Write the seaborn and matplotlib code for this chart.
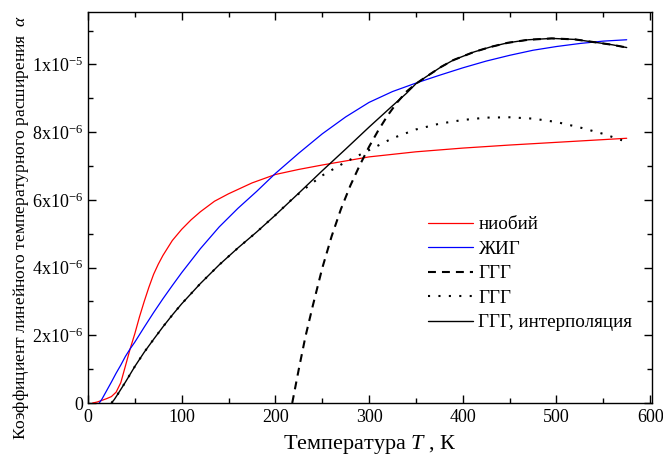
import matplotlib
matplotlib.use("Agg")
import matplotlib.pyplot as plt
from matplotlib.ticker import MultipleLocator, FixedLocator, FixedFormatter
import pandas as pd
import seaborn as sns

# ---- data ----
T_nb = [5, 10, 15, 20, 25, 30, 35, 40, 45, 50, 55, 60, 65, 70, 75, 80, 90, 100, 110, 120, 135,
        150, 175, 200, 225, 250, 275, 300, 350, 400, 450, 500, 550, 575]
a_nb = [0.0, 0.03, 0.08, 0.13, 0.19, 0.32, 0.6, 1.1, 1.6, 2.05, 2.55, 3.0, 3.42, 3.8, 4.1,
        4.36, 4.8, 5.13, 5.41, 5.65, 5.96, 6.18, 6.5, 6.75, 6.9, 7.03, 7.15, 7.27, 7.42, 7.53,
        7.62, 7.7, 7.78, 7.82]

T_yig = [12, 15, 20, 25, 30, 35, 40, 45, 50, 60, 70, 80, 90, 100, 120, 140, 160, 180, 200,
         225, 250, 275, 300, 325, 350, 375, 400, 425, 450, 475, 500, 525, 550, 575]
a_yig = [0.0, 0.12, 0.37, 0.62, 0.88, 1.12, 1.38, 1.6, 1.8, 2.24, 2.67, 3.08, 3.47, 3.85,
         4.56, 5.2, 5.75, 6.25, 6.78, 7.38, 7.95, 8.45, 8.88, 9.2, 9.45, 9.68, 9.9, 10.1,
         10.27, 10.42, 10.53, 10.62, 10.69, 10.73]

T_ggg_dash = [218, 225, 232, 240, 250, 260, 270, 280, 290, 300, 310, 320, 330, 340, 350, 360,
              377, 390, 412, 430, 448, 470, 495, 520, 540, 560, 575]
a_ggg_dash = [0.0, 1.0, 1.95, 2.88, 3.98, 4.92, 5.73, 6.42, 7.02, 7.57, 8.06, 8.5, 8.88, 9.2,
              9.43, 9.62, 9.93, 10.13, 10.37, 10.52, 10.64, 10.73, 10.77, 10.74, 10.66, 10.58,
              10.5]

T_ggg_dot = [25, 28, 32, 40, 50, 60, 70, 80, 90, 100, 120, 140, 160, 180, 200, 215, 230, 250,
             275, 300, 325, 350, 375, 400, 425, 450, 475, 500, 525, 550, 570]
a_ggg_dot = [0.0, 0.1, 0.27, 0.62, 1.08, 1.5, 1.88, 2.25, 2.6, 2.93, 3.53, 4.08, 4.58, 5.05,
             5.55, 5.95, 6.3, 6.72, 7.12, 7.47, 7.82, 8.08, 8.25, 8.36, 8.43, 8.44, 8.4, 8.3,
             8.14, 7.95, 7.76]

T_ggg_int = [25, 28, 32, 40, 50, 60, 70, 80, 90, 100, 120, 140, 160, 180, 200, 225, 250, 275,
             300, 325, 340, 350, 360, 377, 390, 412, 430, 448, 470, 495, 520, 540, 560, 575]
a_ggg_int = [0.0, 0.1, 0.27, 0.62, 1.08, 1.5, 1.88, 2.25, 2.6, 2.93, 3.53, 4.08, 4.58, 5.05,
             5.55, 6.2, 6.86, 7.5, 8.15, 8.78, 9.15, 9.43, 9.62, 9.93, 10.13, 10.37, 10.52,
             10.64, 10.73, 10.77, 10.74, 10.66, 10.58, 10.5]

labels = ["ниобий", "ЖИГ", "ГГГ", "ГГГ", "ГГГ, интерполяция"]
x_ticks = [0, 100, 200, 300, 400, 500, 600]
y_ticks = [0, 2e-6, 4e-6, 6e-6, 8e-6, 1e-5]
y_ticklabels = ["0", r"$\mathregular{2x10^{-6}}$", r"$\mathregular{4x10^{-6}}$",
                r"$\mathregular{6x10^{-6}}$", r"$\mathregular{8x10^{-6}}$",
                r"$\mathregular{1x10^{-5}}$"]
SCALE = 1e-6

# ---- style ----
sns.set_theme(style="ticks")
plt.rcParams["font.family"] = ["Liberation Serif", "DejaVu Serif"]
plt.rcParams["mathtext.fontset"] = "custom"
plt.rcParams["mathtext.rm"] = "Liberation Serif"
plt.rcParams["mathtext.it"] = "Liberation Serif:italic"
plt.rcParams["mathtext.bf"] = "Liberation Serif:bold"
plt.rcParams["text.color"] = "black"
plt.rcParams["axes.labelcolor"] = "black"

fig = plt.figure(figsize=(6.63, 4.61), dpi=100)
ax = fig.add_axes([88 / 663, 1 - 403 / 461, (652 - 88) / 663, (403 - 12) / 461])

series = [
    (T_nb, a_nb, labels[0], "#ff0000", "-", 0.9),
    (T_yig, a_yig, labels[1], "#0000ff", "-", 0.9),
    (T_ggg_dash, a_ggg_dash, labels[2], "black", (0, (3.8, 2.9)), 1.5),
    (T_ggg_dot, a_ggg_dot, labels[3], "black", (0, (1, 4)), 1.5),
    (T_ggg_int, a_ggg_int, labels[4], "black", "-", 1.0),
]
for T, a, lab, col, ls, lw in series:
    df = pd.DataFrame({"T": T, "a": [v * SCALE for v in a]})
    sns.lineplot(data=df, x="T", y="a", ax=ax, color=col, linestyle=ls, linewidth=lw,
                 label=lab, sort=False, estimator=None)

ax.set_xlim(0, 602)
ax.set_ylim(0, 11.55e-6)
ax.xaxis.set_major_locator(FixedLocator(x_ticks))
ax.xaxis.set_minor_locator(MultipleLocator(50))
ax.yaxis.set_major_locator(FixedLocator(y_ticks))
ax.yaxis.set_major_formatter(FixedFormatter(y_ticklabels))
ax.yaxis.set_minor_locator(MultipleLocator(1e-6))
ax.tick_params(which="both", direction="in", top=True, right=True, colors="black",
               labelsize=13, width=1.0)
ax.tick_params(which="major", length=6)
ax.tick_params(which="minor", length=3.5)
ax.tick_params(axis="x", pad=4)
for s in ax.spines.values():
    s.set_linewidth(1.0)
    s.set_color("black")

ax.set_xlabel(r"Температура $\mathit{T}$ , К", fontsize=16, labelpad=5)
ax.set_ylabel(r"Коэффициент линейного температурного расширения  $\mathit{\alpha}$",
              fontsize=12.6)
ax.yaxis.set_label_coords(-0.101, 0.448)

leg = ax.legend(loc="upper left", bbox_to_anchor=((428.3 - 88) / 564, (403 - 216) / 391),
                frameon=False, fontsize=13.8, handlelength=2.35, handletextpad=0.26,
                labelspacing=0.37, borderpad=0, borderaxespad=0)

fig.savefig("out.png", dpi=100, facecolor="white")
